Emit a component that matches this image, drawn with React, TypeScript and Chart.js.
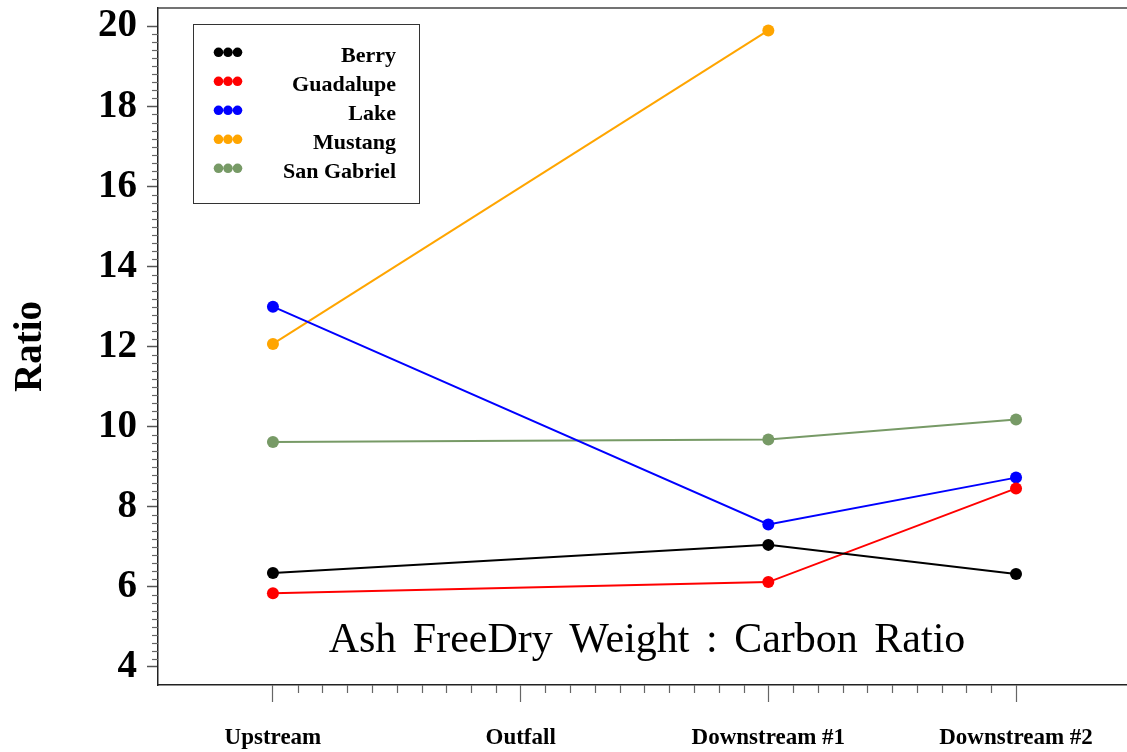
import React, { useEffect, useRef } from "react";
import { Chart, registerables } from "chart.js";

Chart.register(...registerables);

const categories = ["Upstream", "Outfall", "Downstream #1", "Downstream #2"];
const seriesNames = ["Berry", "Guadalupe", "Lake", "Mustang", "San Gabriel"];
const seriesColors = ["#000000", "#ff0000", "#0000ff", "#ffa500", "#779a66"];
const berry = [6.35, null, 7.05, 6.32];
const guadalupe = [5.84, null, 6.12, 8.46];
const lake = [13.0, null, 7.56, 8.73];
const mustang = [12.07, null, 19.9, null];
const sanGabriel = [9.62, null, 9.68, 10.18];
const seriesValues = [berry, guadalupe, lake, mustang, sanGabriel];
const yTicks = [4, 6, 8, 10, 12, 14, 16, 18, 20];
const titleText = "Ash FreeDry Weight : Carbon Ratio";
const yTitle = "Ratio";

const SERIF = "'Liberation Serif', 'DejaVu Serif', serif";

const zeroPad = (scale: any) => {
  scale.paddingTop = 0;
  scale.paddingBottom = 0;
  scale.paddingLeft = 0;
  scale.paddingRight = 0;
};

const decorPlugin = {
  id: "decor",
  afterDraw(chart: any) {
    const { ctx, chartArea, scales } = chart;
    const xs = scales.x;
    const ys = scales.y;
    ctx.save();
    // top frame line
    ctx.strokeStyle = "#444";
    ctx.lineWidth = 1.5;
    ctx.beginPath();
    ctx.moveTo(chartArea.left, chartArea.top);
    ctx.lineTo(chartArea.right, chartArea.top);
    ctx.stroke();
    // minor ticks
    ctx.strokeStyle = "#666";
    ctx.lineWidth = 1.2;
    for (let i = 0; i <= (categories.length - 1) * 10; i++) {
      if (i % 10 === 0) continue;
      const px = Math.round(xs.getPixelForValue(i / 10)) + 0.5;
      ctx.beginPath();
      ctx.moveTo(px, chartArea.bottom);
      ctx.lineTo(px, chartArea.bottom + 8);
      ctx.stroke();
    }
    const y0 = yTicks[0];
    const y1 = yTicks[yTicks.length - 1];
    for (let i = 0; i <= (y1 - y0) * 5; i++) {
      if (i % 10 === 0) continue;
      const py = Math.round(ys.getPixelForValue(y0 + i / 5)) + 0.5;
      ctx.beginPath();
      ctx.moveTo(chartArea.left - 6, py);
      ctx.lineTo(chartArea.left, py);
      ctx.stroke();
    }
    // title inside plot
    ctx.fillStyle = "#000";
    ctx.font = "42px " + SERIF;
    (ctx as any).wordSpacing = "6px";
    ctx.textAlign = "center";
    ctx.textBaseline = "alphabetic";
    ctx.fillText(titleText, 647, 652);
    (ctx as any).wordSpacing = "0px";
    // legend
    const lx = 193, ly = 24, lw = 226, lh = 179;
    ctx.strokeStyle = "#333";
    ctx.lineWidth = 1;
    ctx.strokeRect(lx + 0.5, ly + 0.5, lw, lh);
    ctx.font = "bold 22px " + SERIF;
    ctx.textAlign = "right";
    ctx.textBaseline = "alphabetic";
    chart.data.datasets.forEach((ds: any, i: number) => {
      const ry = 52.3 + i * 29;
      ctx.fillStyle = ds.borderColor;
      for (let k = 0; k < 3; k++) {
        ctx.beginPath();
        ctx.arc(218.5 + k * 9.5, ry, 4.8, 0, Math.PI * 2);
        ctx.fill();
      }
      ctx.fillStyle = "#000";
      ctx.fillText(ds.label, 396, ry + 10);
    });
    ctx.restore();
  },
};

export default function App() {
  const ref = useRef<HTMLCanvasElement | null>(null);
  useEffect(() => {
    if (!ref.current) return;
    const datasets = seriesNames.map((name, i) => ({
      label: name,
      data: seriesValues[i]
        .map((v, j) => (v === null ? null : { x: j, y: v }))
        .filter((p) => p !== null),
      borderColor: seriesColors[i],
      backgroundColor: seriesColors[i],
      borderWidth: 2,
      pointRadius: 6,
      pointHoverRadius: 6,
      pointBorderWidth: 0,
      showLine: true,
      tension: 0,
    }));
    const chart = new Chart(ref.current, {
      type: "scatter",
      data: { datasets: datasets as any },
      plugins: [decorPlugin],
      options: {
        animation: false,
        responsive: false,
        events: [],
        layout: { autoPadding: false, padding: { top: 8, right: 0, left: 0, bottom: 0 } },
        plugins: { legend: { display: false }, title: { display: false }, tooltip: { enabled: false } },
        scales: {
          x: {
            type: "linear",
            min: -0.464,
            max: 3.448,
            afterBuildTicks: (scale: any) => {
              scale.ticks = categories.map((_, i) => ({ value: i }));
            },
            afterFit: (scale: any) => {
              scale.height = 67;
              zeroPad(scale);
            },
            ticks: {
              callback: (v: any) => categories[v] ?? "",
              font: { family: SERIF, size: 23, weight: "bold" },
              color: "#000",
              padding: 22,
              maxRotation: 0,
              autoSkip: false,
            },
            grid: { drawOnChartArea: false, drawTicks: true, tickLength: 17, tickColor: "#666", tickWidth: 1.2 },
            border: { display: true, color: "#222", width: 1.5 },
          },
          y: {
            type: "linear",
            min: 3.55,
            max: 20.46,
            afterBuildTicks: (scale: any) => {
              scale.ticks = yTicks.map((v) => ({ value: v }));
            },
            afterFit: (scale: any) => {
              scale.width = 158;
              zeroPad(scale);
            },
            ticks: {
              font: { family: SERIF, size: 39, weight: "bold" },
              color: "#000",
              padding: 10,
            },
            grid: { drawOnChartArea: false, drawTicks: true, tickLength: 11, tickColor: "#555", tickWidth: 1.5 },
            border: { display: true, color: "#222", width: 1.5 },
            title: {
              display: true,
              text: yTitle,
              font: { family: SERIF, size: 39, weight: "bold" },
              color: "#000",
              padding: { top: 8, bottom: 0 },
            },
          },
        },
      },
    });
    return () => chart.destroy();
  }, []);
  return (
    <div style={{ position: "absolute", left: 0, top: 0, width: 1127, height: 752, background: "#fff" }}>
      <canvas ref={ref} width={1127} height={752} style={{ display: "block" }} />
    </div>
  );
}
